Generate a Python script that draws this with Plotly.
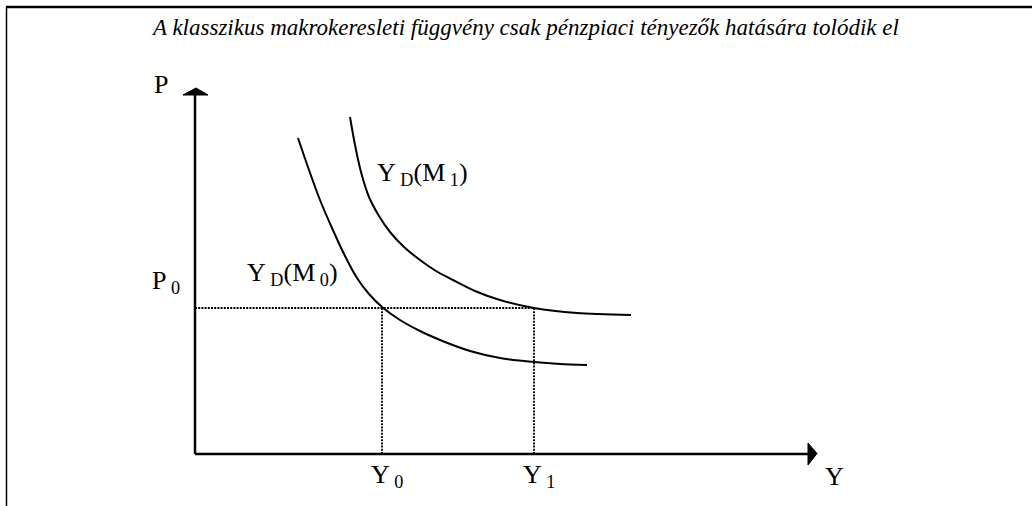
import plotly.graph_objects as go

# ---------------- data (model units) ----------------
title_text = "A klasszikus makrokeresleti függvény csak pénzpiaci tényezők hatására tolódik el"

# Aggregate demand curve Y_D(M0)
m0_Y = [10.3, 11.4, 12.5, 13.7, 15.0, 16.2, 17.4, 18.7, 20.5, 22.5, 25.0, 27.5, 30.5, 33.9, 36.5, 39.2]
m0_P = [31.6, 28.4, 25.4, 22.6, 19.8, 17.6, 16.0, 14.7, 13.4, 12.3, 11.2, 10.3, 9.6, 9.2, 9.0, 8.9]

# Aggregate demand curve Y_D(M1)
m1_Y = [15.5, 16.0, 16.6, 17.4, 18.4, 19.5, 20.9, 22.5, 24.1, 25.8, 28.0, 30.5, 33.9, 38.2, 43.6]
m1_P = [33.7, 30.9, 28.2, 25.7, 23.8, 22.2, 20.7, 19.4, 18.3, 17.4, 16.3, 15.4, 14.6, 14.1, 13.9]

P0 = 14.6
Y0 = 18.7
Y1 = 33.9
Y_axis_end = 61.3
P_axis_end = 35.9

curve_labels = ["Y<sub> D</sub>(M<sub> 0</sub>)", "Y<sub> D</sub>(M<sub> 1</sub>)"]
tick_labels_x = ["Y<sub> 0</sub>", "Y<sub> 1</sub>"]
tick_labels_y = ["P<sub> 0</sub>"]
axis_names = ["Y", "P"]

# ---------------- figure ----------------
W, H = 1032, 506
FONT = "Liberation Serif"
black = "#000000"

fig = go.Figure()

# dotted guide lines
dot = dict(color=black, width=1.8, dash="2px,1.2px")
fig.add_trace(go.Scatter(x=[0, Y1], y=[P0, P0], mode="lines", line=dot, hoverinfo="skip"))
fig.add_trace(go.Scatter(x=[Y0, Y0], y=[0, P0], mode="lines", line=dot, hoverinfo="skip"))
fig.add_trace(go.Scatter(x=[Y1, Y1], y=[0, P0], mode="lines", line=dot, hoverinfo="skip"))

# demand curves
curve_line = dict(color=black, width=2, shape="spline", smoothing=0.8)
fig.add_trace(go.Scatter(x=m0_Y, y=m0_P, mode="lines", line=curve_line, hoverinfo="skip"))
fig.add_trace(go.Scatter(x=m1_Y, y=m1_P, mode="lines", line=curve_line, hoverinfo="skip"))

# axes with arrows
fig.add_shape(type="line", x0=0, y0=0, x1=Y_axis_end, y1=0, line=dict(color=black, width=2.5))
fig.add_shape(type="line", x0=0, y0=0, x1=0, y1=P_axis_end, line=dict(color=black, width=2.5))
ax_tip_x = Y_axis_end + 0.9
fig.add_shape(type="path",
              path=f"M {Y_axis_end} 1.1 L {ax_tip_x} 0.05 L {Y_axis_end} -1.1 Z",
              fillcolor=black, line=dict(color=black, width=1))
ay_tip = P_axis_end + 0.7
fig.add_shape(type="path",
              path=f"M -1.2 {P_axis_end} L 0.1 {ay_tip} L 1.3 {P_axis_end} Z",
              fillcolor=black, line=dict(color=black, width=1))

# frame lines (top and left)
fig.add_shape(type="line", xref="paper", yref="paper", x0=6 / W, x1=1, y0=1 - 7 / H, y1=1 - 7 / H,
              line=dict(color=black, width=2.5))
fig.add_shape(type="line", xref="paper", yref="paper", x0=6.5 / W, x1=6.5 / W, y0=0, y1=1 - 7 / H,
              line=dict(color=black, width=1.5))

lab_font = dict(family=FONT, size=26, color=black)


def label(text, x, y, xanchor="left", yanchor="middle", font=lab_font):
    fig.add_annotation(text=text, x=x, y=y, xref="x", yref="y", showarrow=False,
                       xanchor=xanchor, yanchor=yanchor, font=font)


label(curve_labels[0], 5.0, 18.0)
label(curve_labels[1], 18.0, 28.0)
label(tick_labels_x[0], Y0 - 1.3, -2.2)
label(tick_labels_x[1], Y1 - 1.3, -2.2)
label(tick_labels_y[0], -4.5, 17.2)
label(axis_names[0], 62.8, -2.2)
label(axis_names[1], -4.3, 37.0)

fig.add_annotation(text=title_text, x=33.0, y=42.7, xref="x", yref="y",
                   showarrow=False, xanchor="center", yanchor="middle",
                   font=dict(family=FONT, size=23, color=black, style="italic"))

fig.update_layout(
    width=W, height=H,
    margin=dict(l=0, r=0, t=0, b=0),
    paper_bgcolor="white", plot_bgcolor="white",
    showlegend=False,
    hovermode=False,
    xaxis=dict(range=[-19.5, 83.7], visible=False, fixedrange=True),
    yaxis=dict(range=[-5.2, 45.4], visible=False, fixedrange=True),
)

fig.write_html("out.html", config={"displayModeBar": False, "staticPlot": True},
               post_script="document.body.style.margin='0';")
